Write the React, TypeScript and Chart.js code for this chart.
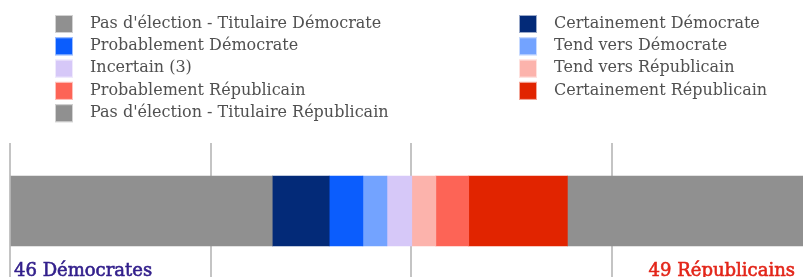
import React, { useEffect, useRef } from "react";
import { Chart, registerables } from "chart.js";

Chart.register(...registerables);

const categories = ["Sénat"];
const seriesLabels = [
  "Pas d'élection - Titulaire Démocrate",
  "Certainement Démocrate",
  "Probablement Démocrate",
  "Tend vers Démocrate",
  "Incertain (3)",
  "Tend vers Républicain",
  "Probablement Républicain",
  "Certainement Républicain",
  "Pas d'élection - Titulaire Républicain",
];
const seatValues = [32.7, 7.1, 4.2, 3.0, 3.1, 3.0, 4.1, 12.3, 30.5];
const seriesColors = [
  "#909090",
  "#032a78",
  "#0b5dfd",
  "#73a3ff",
  "#d6c8f8",
  "#fcb3ac",
  "#fd6456",
  "#e12400",
  "#909090",
];
const axisTicks = [0, 25, 50, 75, 100];
const totalLabels = ["46 Démocrates", "49 Républicains"];
const totalColors = ["#33208c", "#e3261a"];

const FONT = "'DejaVu Serif', serif";

const overlayPlugin = {
  id: "overlay",
  afterDraw(chart: any) {
    const ctx = chart.ctx;
    ctx.save();
    // legend, two columns, row-major
    const ds = chart.data.datasets;
    ds.forEach((d: any, i: number) => {
      const col = i % 2;
      const row = Math.floor(i / 2);
      const bx = col === 0 ? 55 : 519;
      const tx = col === 0 ? 90 : 554;
      const by = 15 + row * 22.3;
      ctx.fillStyle = d.backgroundColor;
      ctx.fillRect(bx, by, 18, 18);
      ctx.strokeStyle = "rgba(255,255,255,0.6)";
      ctx.lineWidth = 1;
      ctx.strokeRect(bx + 0.5, by + 0.5, 17, 17);
      ctx.fillStyle = "#505050";
      ctx.font = "16px " + FONT;
      ctx.textBaseline = "middle";
      ctx.textAlign = "left";
      ctx.fillText(d.label, tx, by + 8.5);
    });
    // totals
    ctx.font = "18px " + FONT;
    ctx.textBaseline = "alphabetic";
    ctx.lineWidth = 0.6;
    ctx.fillStyle = totalColors[0];
    ctx.strokeStyle = totalColors[0];
    ctx.textAlign = "left";
    ctx.fillText(totalLabels[0], 14, 276);
    ctx.strokeText(totalLabels[0], 14, 276);
    ctx.fillStyle = totalColors[1];
    ctx.strokeStyle = totalColors[1];
    ctx.textAlign = "right";
    ctx.fillText(totalLabels[1], 795, 276);
    ctx.strokeText(totalLabels[1], 795, 276);
    ctx.restore();
  },
};

export default function App() {
  const ref = useRef<HTMLCanvasElement>(null);
  useEffect(() => {
    if (!ref.current) return;
    const chart = new Chart(ref.current, {
      type: "bar",
      data: {
        labels: categories,
        datasets: seriesLabels.map((label, i) => ({
          label,
          data: [seatValues[i]],
          backgroundColor: seriesColors[i],
          borderWidth: 0,
          barThickness: 70,
        })),
      },
      options: {
        indexAxis: "y",
        animation: false,
        responsive: false,
        devicePixelRatio: 1,
        layout: { padding: { left: 10, right: 18, top: 143, bottom: 21 } },
        plugins: { legend: { display: false }, tooltip: { enabled: false } },
        scales: {
          x: {
            stacked: true,
            min: axisTicks[0],
            max: axisTicks[axisTicks.length - 1],
            ticks: { display: false, stepSize: axisTicks[1] - axisTicks[0] },
            grid: { color: "#c4c4c4", lineWidth: 2, drawTicks: false },
            border: { display: false },
          },
          y: { stacked: true, display: false },
        },
      },
      plugins: [overlayPlugin],
    });
    return () => chart.destroy();
  }, []);
  return (
    <div
      style={{
        position: "fixed",
        left: 0,
        top: 0,
        width: 803,
        height: 277,
        overflow: "hidden",
        background: "#fff",
      }}
    >
      <canvas ref={ref} width={830} height={300} style={{ display: "block" }} />
    </div>
  );
}
